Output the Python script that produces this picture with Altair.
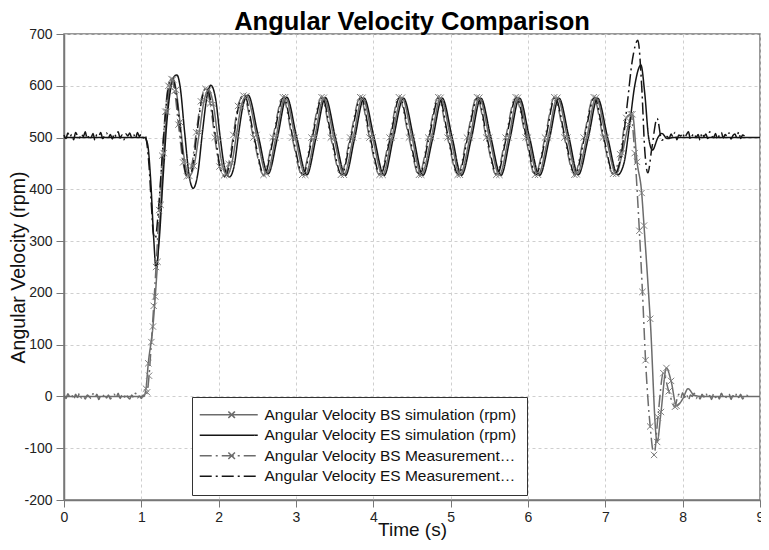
import altair as alt
import pandas as pd

SERIES = [
    "Angular Velocity BS simulation (rpm)",
    "Angular Velocity ES simulation (rpm)",
    "Angular Velocity BS Measurement (rpm)",
    "Angular Velocity ES Measurement (rpm)",
]
COLORS = ["#6c6c6c", "#151515", "#6c6c6c", "#151515"]
DASHES = [[1, 0], [1, 0], [12, 4, 2, 4], [12, 4, 2, 4]]

# ---- ES simulation (black solid)
t_es_sim = [0.00, 1.04, 1.08, 1.12, 1.16, 1.19, 1.23, 1.28, 1.33, 1.38, 1.42, 1.46, 1.50, 1.56, 1.62,
            1.67, 1.73, 1.79, 1.85, 1.90, 1.96, 2.02, 2.08, 2.14, 2.20, 2.26, 2.32, 2.38, 2.51, 2.64,
            2.76, 2.88, 3.01, 3.14, 3.26, 3.38, 3.51, 3.64, 3.76, 3.88, 4.01, 4.14, 4.26, 4.39, 4.52,
            4.64, 4.77, 4.89, 5.02, 5.14, 5.27, 5.39, 5.52, 5.65, 5.77, 5.89, 6.02, 6.15, 6.28, 6.40,
            6.53, 6.65, 6.78, 6.90, 7.03, 7.16, 7.24, 7.31, 7.38, 7.46, 7.51, 7.56, 7.61, 7.68, 7.73,
            7.80, 7.88, 9.00]
v_es_sim = [500, 500, 488, 420, 305, 248, 300, 420, 530, 595, 617, 621, 600, 510, 425,
            402, 430, 510, 580, 601, 575, 500, 440, 424, 445, 510, 565, 582, 505, 430,
            500, 578, 500, 428, 500, 577, 500, 427, 500, 576, 500, 427, 500, 576, 500,
            427, 500, 576, 500, 427, 500, 576, 500, 427, 500, 576, 500, 427, 500, 576,
            500, 428, 500, 576, 500, 428, 450, 520, 600, 640, 585, 500, 476, 500, 508,
            498, 500, 500]

# ---- BS simulation (grey solid with x markers)
t_bs_sim = [0.00, 1.03, 1.06, 1.09, 1.15, 1.18, 1.21, 1.25, 1.29, 1.33, 1.37, 1.41, 1.45, 1.50, 1.56,
            1.62, 1.68, 1.75, 1.81, 1.87, 1.93, 1.99, 2.05, 2.11, 2.17, 2.23, 2.29, 2.36, 2.49, 2.62,
            2.74, 2.86, 2.99, 3.12, 3.24, 3.36, 3.49, 3.62, 3.74, 3.86, 3.99, 4.12, 4.24, 4.37, 4.50,
            4.62, 4.75, 4.87, 5.00, 5.12, 5.25, 5.37, 5.50, 5.63, 5.75, 5.87, 6.00, 6.13, 6.26, 6.38,
            6.51, 6.63, 6.76, 6.88, 7.01, 7.14, 7.22, 7.30, 7.35, 7.41, 7.47, 7.50, 7.58, 7.67, 7.72,
            7.79, 7.85, 7.92, 8.00, 8.07, 8.15, 8.25, 9.00]
v_bs_sim = [0, 0, 15, 64, 135, 193, 260, 370, 470, 550, 598, 612, 592, 530, 455,
            426, 445, 510, 570, 592, 565, 500, 445, 428, 450, 505, 560, 580, 505, 430,
            500, 578, 500, 428, 500, 577, 500, 428, 500, 577, 500, 428, 500, 577, 500,
            428, 500, 577, 500, 428, 500, 577, 500, 428, 500, 577, 500, 428, 500, 577,
            500, 429, 500, 577, 500, 430, 470, 525, 545, 453, 393, 330, 150, -88, -30,
            55, 30, -18, -5, 15, 2, 0, 0]

# ---- BS measurement (grey dash-dot with x markers)
t_bs_meas = [0.000, 0.025, 0.050, 0.075, 0.100, 0.125, 0.150, 0.175, 0.200, 0.225, 0.250, 0.275, 0.300,
             0.325, 0.350, 0.375, 0.400, 0.425, 0.450, 0.475, 0.500, 0.525, 0.550, 0.575, 0.600, 0.625,
             0.650, 0.675, 0.700, 0.725, 0.750, 0.775, 0.800, 0.825, 0.850, 0.875, 0.900, 0.925, 0.950,
             0.975, 1.000, 1.025, 1.050,
             1.075, 1.10, 1.13, 1.16, 1.19, 1.23, 1.27, 1.31, 1.35, 1.39, 1.43, 1.48, 1.54, 1.59, 1.65,
             1.71, 1.77, 1.83, 1.89, 1.95, 2.01, 2.07, 2.13, 2.19, 2.25, 2.32, 2.45, 2.58, 2.70, 2.83,
             2.95, 3.08, 3.20, 3.33, 3.45, 3.58, 3.70, 3.83, 3.95, 4.08, 4.21, 4.33, 4.46, 4.59, 4.71,
             4.84, 4.96, 5.09, 5.21, 5.34, 5.46, 5.59, 5.71, 5.84, 5.97, 6.09, 6.22, 6.34, 6.47, 6.60,
             6.72, 6.85, 6.97, 7.10, 7.19, 7.27, 7.33, 7.38, 7.44, 7.48, 7.52, 7.58, 7.63, 7.68, 7.75,
             7.82, 7.90,
             7.925, 7.950, 7.975, 8.000, 8.025, 8.050, 8.075, 8.100, 8.125, 8.150, 8.175, 8.200, 8.225,
             8.250, 8.275, 8.300, 8.325, 8.350, 8.375, 8.400, 8.425, 8.450, 8.475, 8.500, 8.525, 8.550,
             8.575, 8.600, 8.625, 8.650, 8.675, 8.700, 8.725, 8.750, 8.775, 8.800, 8.825, 8.850]
v_bs_meas = [2, -4, 5, -1, 3, -6, 4, -2, 6, -3, 1, -5, 3,
             0, -4, 5, -2, 4, -6, 2, -1, 5, -3, 3, -5, 1,
             4, -2, 6, -4, 2, -3, 5, -1, -5, 3, -2, 6, -3,
             1, -4, 3, 0,
             8, 40, 105, 175, 250, 360, 465, 550, 600, 613, 590, 525, 452, 425, 445,
             510, 570, 594, 566, 500, 444, 427, 449, 505, 561, 581, 500, 428, 500, 578,
             500, 428, 500, 578, 500, 428, 500, 578, 500, 428, 500, 578, 500, 428, 500,
             578, 500, 428, 500, 578, 500, 428, 500, 578, 500, 428, 500, 578, 500, 428,
             500, 578, 500, 430, 468, 538, 545, 470, 320, 202, 70, -58, -113, -40, 45,
             10, -20,
             -6, 4, -3, 7, -2, 5, -7, 3, 0, 6, -4, 2, -5,
             4, -1, 7, -3, 2, -6, 5, -2, 3, -5, 6, -1, -4,
             3, 5, -6, 2, -3, 6, -2, 4, -5, 1, 3, -2]

# ---- ES measurement (black dash-dot)
t_es_meas = [0.000, 0.025, 0.050, 0.075, 0.100, 0.125, 0.150, 0.175, 0.200, 0.225, 0.250, 0.275, 0.300,
             0.325, 0.350, 0.375, 0.400, 0.425, 0.450, 0.475, 0.500, 0.525, 0.550, 0.575, 0.600, 0.625,
             0.650, 0.675, 0.700, 0.725, 0.750, 0.775, 0.800, 0.825, 0.850, 0.875, 0.900, 0.925, 0.950,
             0.975, 1.000, 1.025, 1.050,
             1.075, 1.10, 1.13, 1.155, 1.18, 1.21, 1.25, 1.29, 1.33, 1.37, 1.41, 1.45, 1.50, 1.55, 1.60,
             1.66, 1.72, 1.78, 1.84, 1.90, 1.96, 2.02, 2.08, 2.14, 2.20, 2.26, 2.33, 2.46, 2.59, 2.71,
             2.84, 2.96, 3.09, 3.21, 3.34, 3.46, 3.59, 3.71, 3.84, 3.96, 4.09, 4.22, 4.34, 4.47, 4.60,
             4.72, 4.85, 4.97, 5.10, 5.22, 5.35, 5.47, 5.60, 5.72, 5.85, 5.98, 6.10, 6.23, 6.35, 6.48,
             6.61, 6.73, 6.86, 6.98, 7.11, 7.20, 7.28, 7.35, 7.42, 7.47, 7.51, 7.55, 7.60, 7.67, 7.73,
             7.80,
             7.825, 7.850, 7.875, 7.900, 7.925, 7.950, 7.975, 8.000, 8.025, 8.050, 8.075, 8.100, 8.125,
             8.150, 8.175, 8.200, 8.225, 8.250, 8.275, 8.300, 8.325, 8.350, 8.375, 8.400, 8.425, 8.450,
             8.475, 8.500, 8.525, 8.550, 8.575, 8.600, 8.625, 8.650, 8.675, 8.700, 8.725, 8.750, 8.775,
             8.800]
v_es_meas = [505, 498, 509, 501, 506, 496, 510, 503, 499, 507, 502, 511, 497,
             505, 500, 508, 495, 506, 503, 510, 498, 504, 509, 500, 506, 497,
             508, 502, 511, 499, 505, 496, 507, 503, 509, 500, 506, 498, 510,
             502, 507, 499, 504,
             485, 445, 370, 315, 305, 340, 420, 505, 575, 610, 614, 585, 520, 450, 422,
             440, 510, 572, 597, 568, 500, 442, 425, 448, 505, 562, 583, 500, 427, 500,
             578, 500, 428, 500, 578, 500, 428, 500, 578, 500, 428, 500, 578, 500, 428,
             500, 578, 500, 428, 500, 578, 500, 428, 500, 578, 500, 428, 500, 578, 500,
             428, 500, 578, 500, 428, 462, 560, 650, 688, 600, 475, 432, 478, 537, 495,
             502,
             498, 507, 501, 510, 496, 505, 503, 509, 499, 506, 511, 497, 504,
             508, 500, 506, 495, 509, 502, 507, 498, 511, 503, 500, 508, 496,
             505, 510, 499, 506, 502, 509, 497, 504, 507, 500, 511, 498, 505,
             503]

X_MAJOR = [0, 1, 2, 3, 4, 5, 6, 7, 8, 9]
Y_MAJOR = [-200, -100, 0, 100, 200, 300, 400, 500, 600, 700]
x_ticks = [a + f for a in X_MAJOR[:-1] for f in (0, 0.25, 0.5, 0.75)] + [X_MAJOR[-1]]
y_ticks = [a + f for a in Y_MAJOR[:-1] for f in (0, 25, 50, 75)] + [Y_MAJOR[-1]]

MARK_RANGE = {SERIES[0]: (1.05, 7.95), SERIES[2]: (1.07, 7.92)}

frames = []
for name, ts, vs in [(SERIES[0], t_bs_sim, v_bs_sim), (SERIES[1], t_es_sim, v_es_sim),
                     (SERIES[2], t_bs_meas, v_bs_meas), (SERIES[3], t_es_meas, v_es_meas)]:
    d = pd.DataFrame({"t": ts, "v": vs})
    d["series"] = name
    if name in MARK_RANGE:
        lo, hi = MARK_RANGE[name]
        d["marker"] = (d["t"] > lo) & (d["t"] < hi)
    else:
        d["marker"] = False
    frames.append(d)
df = pd.concat(frames, ignore_index=True)

FONT = "Liberation Sans"

x_enc = alt.X(
    "t:Q",
    scale=alt.Scale(domain=[0, 9], nice=False, zero=False),
    axis=alt.Axis(
        title="Time (s)", values=x_ticks,
        labelExpr="datum.value % 1 === 0 ? '' + datum.value : ''",
        tickSize={"condition": {"test": "datum.value % 1 === 0", "value": 7}, "value": 4},
        gridOpacity={"condition": {"test": "datum.value % 1 === 0", "value": 1}, "value": 0},
        labelPadding=3, titlePadding=-4, titleFontSize=19, labelFlush=False,
    ),
)
y_enc = alt.Y(
    "v:Q",
    scale=alt.Scale(domain=[-200, 700], nice=False, zero=False),
    axis=alt.Axis(
        title="Angular Velocity (rpm)", values=y_ticks,
        labelExpr="datum.value % 100 === 0 ? '' + datum.value : ''",
        tickSize={"condition": {"test": "datum.value % 100 === 0", "value": 8}, "value": 4},
        gridOpacity={"condition": {"test": "datum.value % 100 === 0", "value": 1}, "value": 0},
        labelPadding=4, titlePadding=-5, titleFontSize=19.5,
    ),
)

LINE_PATH = "M-1.67,0L8,0"
LINE_X_PATH = "M-1.67,0L8,0M3.1,-0.55L4.2,0.55M3.1,0.55L4.2,-0.55"
shape_expr = "test(/BS/, datum.value) ? '%s' : '%s'" % (LINE_X_PATH, LINE_PATH)

LEG_FONT_SIZE = 15.5
legend_kw = dict(
    title=None, orient="none", legendX=128, legendY=363, direction="vertical",
    symbolType={"expr": shape_expr}, symbolSize=144, symbolStrokeWidth=1.5,
    symbolFillColor="transparent",
    labelFontSize=LEG_FONT_SIZE, labelFont=FONT, labelColor="#111", labelLimit=253, labelOffset=47,
    padding=10, rowPadding=3.5, strokeColor="#333", fillColor="white",
)

lines = alt.Chart(df).mark_line(interpolate="monotone", strokeWidth=1.5).encode(
    x=x_enc,
    y=y_enc,
    color=alt.Color("series:N", scale=alt.Scale(domain=SERIES, range=COLORS), sort=SERIES,
                    legend=alt.Legend(**legend_kw)),
    strokeDash=alt.StrokeDash("series:N", scale=alt.Scale(domain=SERIES, range=DASHES), sort=SERIES,
                              legend=alt.Legend(**legend_kw)),
    detail="series:N",
)

markers = alt.Chart(df).transform_filter("datum.marker").mark_point(
    shape="M-1,-1L1,1M-1,1L1,-1", filled=False, size=40, strokeWidth=1, color="#808080", opacity=1
).encode(x="t:Q", y="v:Q")

chart = alt.layer(lines, markers).properties(
    width=696, height=466,
    background="white",
    autosize=alt.AutoSizeParams(type="none"),
    padding={"left": 56, "top": 26, "right": 1, "bottom": 42},
    title=alt.TitleParams(
        "Angular Velocity Comparison", fontSize=25.5, fontWeight="bold", font=FONT,
        color="#000", anchor="middle", baseline="alphabetic", offset=-6, dy=22,
    ),
).configure_view(
    stroke="#777", strokeWidth=1.5
).configure_axis(
    labelFont=FONT, titleFont=FONT, labelFontSize=14, titleFontSize=18, titleFontWeight="normal",
    labelColor="#222", titleColor="#111", domainColor="#777", domainWidth=1.5,
    tickColor="#777", tickWidth=1, gridColor="#cfcfcf", gridDash=[3, 3], gridWidth=1,
).configure_legend(
    labelFontSize=LEG_FONT_SIZE, labelFont=FONT, labelLimit=253,
)

chart.save("out.html", embed_options={"renderer": "svg", "actions": False})
